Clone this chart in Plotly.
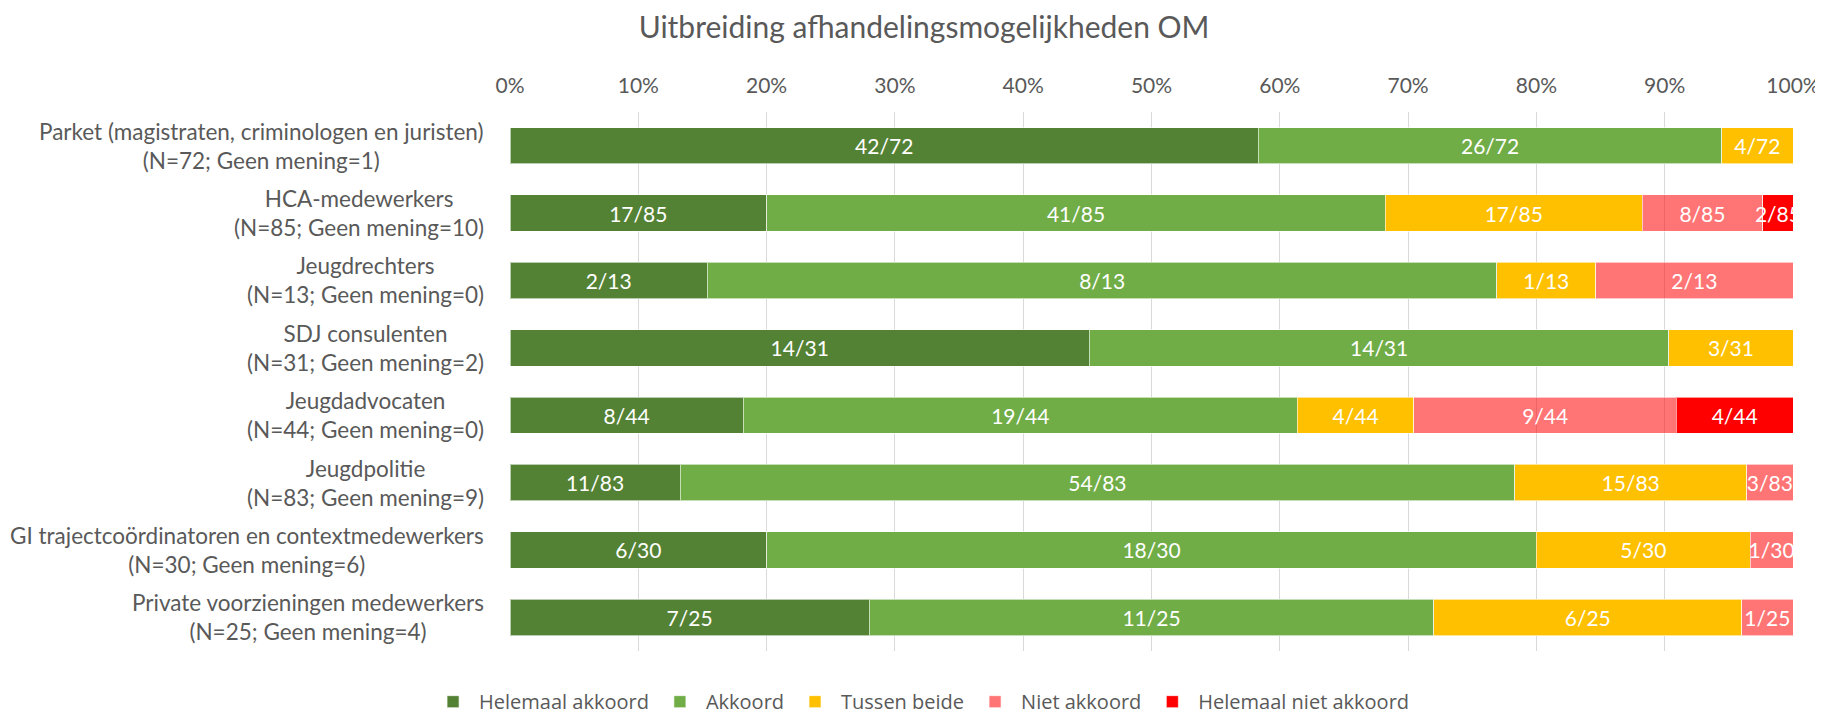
import plotly.graph_objects as go

categories = [
    "Parket (magistraten, criminologen en juristen)<br>(N=72; Geen mening=1)",
    "HCA-medewerkers<br>(N=85; Geen mening=10)",
    "Jeugdrechters<br>(N=13; Geen mening=0)",
    "SDJ consulenten<br>(N=31; Geen mening=2)",
    "Jeugdadvocaten<br>(N=44; Geen mening=0)",
    "Jeugdpolitie<br>(N=83; Geen mening=9)",
    "GI trajectcoördinatoren en contextmedewerkers<br>(N=30; Geen mening=6)",
    "Private voorzieningen medewerkers<br>(N=25; Geen mening=4)",
]
totals = [72, 85, 13, 31, 44, 83, 30, 25]

series_names = ["Helemaal akkoord", "Akkoord", "Tussen beide", "Niet akkoord", "Helemaal niet akkoord"]
helemaal_akkoord = [42, 17, 2, 14, 8, 11, 6, 7]
akkoord = [26, 41, 8, 14, 19, 54, 18, 11]
tussen_beide = [4, 17, 1, 3, 4, 15, 5, 6]
niet_akkoord = [0, 8, 2, 0, 9, 3, 1, 1]
helemaal_niet_akkoord = [0, 2, 0, 0, 4, 0, 0, 0]
series_values = [helemaal_akkoord, akkoord, tussen_beide, niet_akkoord, helemaal_niet_akkoord]
colors = ["#548235", "#70AD47", "#FFC000", "rgba(255,0,0,0.54)", "#FF0000"]

tick_vals = [i / 10 for i in range(11)]
tick_text = [f"{i*10}%" for i in range(11)]

FONT = "Lato"
LEGEND_FONT = "Open Sans"
GREY = "#595959"

fig = go.Figure()
for name, vals, col in zip(series_names, series_values, colors):
    texts = [f"{v}/{n}" if v > 0 else "" for v, n in zip(vals, totals)]
    fig.add_trace(go.Bar(
        y=categories, x=vals, name=name, orientation="h",
        marker=dict(color=col, line=dict(color="rgba(255,255,255,0.6)", width=1)),
        text=texts, textposition="inside", insidetextanchor="middle",
        constraintext="none", textangle=0, cliponaxis=False,
        textfont=dict(family=FONT, size=21, color="white"),
        hoverinfo="skip",
    ))

for cat in categories:
    fig.add_annotation(
        x=0, xref="paper", y=cat, yref="y", xanchor="right", yanchor="middle",
        xshift=-24, text=cat, showarrow=False, align="center",
        font=dict(family=FONT, size=22.5, color=GREY),
    )

fig.update_layout(
    barmode="stack", barnorm="fraction", bargap=0.46,
    width=1823, height=713,
    margin=dict(l=502, r=38, t=104, b=70, autoexpand=False),
    paper_bgcolor="white", plot_bgcolor="white",
    title=dict(text="Uitbreiding afhandelingsmogelijkheden OM", x=0.5025, xanchor="center",
               y=0.972, yanchor="middle", font=dict(family=FONT, size=30, color=GREY)),
    xaxis=dict(side="top", range=[0, 1], tickvals=tick_vals, ticktext=tick_text,
               showgrid=True, gridcolor="#D9D9D9", gridwidth=1, zeroline=False,
               showline=False, ticks="", tickfont=dict(family=FONT, size=21, color=GREY),
               ticklabelstandoff=14, automargin=False, fixedrange=True),
    yaxis=dict(autorange="reversed", showticklabels=False, showgrid=False,
               zeroline=False, showline=False, ticks="", automargin=False, fixedrange=True),
    legend=dict(orientation="h", x=0.32, xanchor="center", y=-0.094, yanchor="middle",
                itemwidth=42,
                font=dict(family=LEGEND_FONT, size=20, color=GREY), traceorder="normal"),
    showlegend=True,
)

fig.write_html("out.html")
